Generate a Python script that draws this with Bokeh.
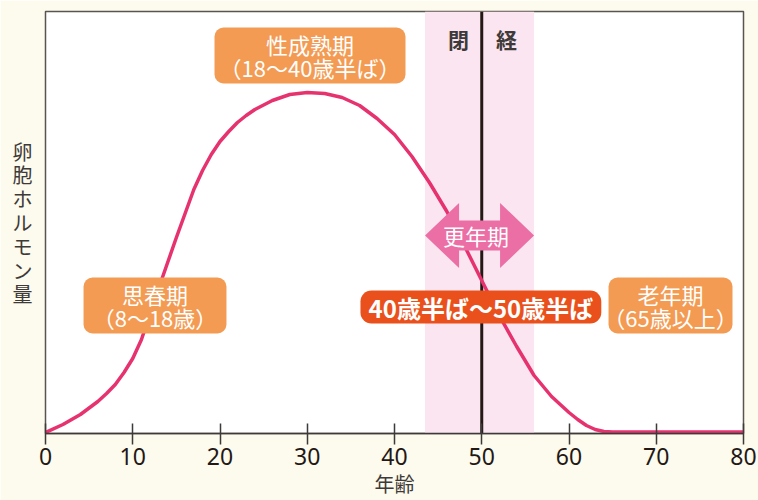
from bokeh.plotting import figure
from bokeh.models import Range1d, BoxAnnotation, Span, Label, FixedTicker
from bokeh.embed import file_html
from bokeh.resources import INLINE

# ---- data ----
ages = [0, 2, 4, 6, 7, 8, 9, 10, 11, 12, 13, 14, 15, 16, 17, 18, 19, 20, 21, 22, 23, 24,
        26, 28, 30, 32, 34, 36, 38, 40, 42, 44, 46, 48, 50, 52, 54, 56, 58, 60, 61,
        62, 63, 64, 65, 70, 75, 80]
hormone = [1, 9, 19, 32, 40, 49, 61, 75, 94, 120, 146, 171, 196, 220, 244, 263, 279, 292, 302, 311, 318, 324,
           333, 339, 341, 340, 336, 328, 315, 299, 277, 251, 222, 188, 153, 118, 87, 58, 37, 21, 14,
           8, 4, 2, 1.5, 1.5, 1.5, 1.5]
x_ticks = [0, 10, 20, 30, 40, 50, 60, 70, 80]
menopause_age = 50
band_start, band_end = 43.5, 56

stage_labels = [
    # (title, sub, left, right, bottom, top)
    ("思春期", "（8〜18歳）", 4.36, 20.74, 100, 156),
    ("性成熟期", "（18〜40歳半ば）", 19.37, 41.26, 350, 406),
    ("老年期", "（65歳以上）", 64.53, 78.74, 100, 156),
]
climacteric_text = "更年期"
climacteric_range = "40歳半ば〜50歳半ば"
menopause_chars = ["閉", "経"]
x_label = "年齢"
y_label = "卵胞ホルモン量"

BG = "#fdfbed"
ORANGE = "#f39b53"
JP = "Noto Sans CJK JP"
DARK = "#3e3a39"

p = figure(width=758, height=500, output_backend="svg", toolbar_location=None,
           x_range=Range1d(0, 80), y_range=Range1d(0, 422),
           min_border_left=45, min_border_right=15, min_border_top=11, min_border_bottom=67)
p.background_fill_color = "white"
p.border_fill_color = BG
p.outline_line_color = "#5a5450"
p.outline_line_width = 1.5
p.grid.visible = False

ax = p.xaxis[0]
ax.ticker = FixedTicker(ticks=x_ticks)
ax.minor_tick_line_color = None
ax.axis_line_color = DARK
ax.axis_line_width = 1.5
ax.major_tick_line_color = DARK
ax.major_tick_line_width = 1.5
ax.major_tick_in = 10
ax.major_tick_out = 11
ax.major_label_standoff = 3
ax.major_label_text_font = "Noto Sans"
ax.major_label_text_font_size = "23px"
ax.major_label_text_color = "#231815"
ax.axis_label = x_label
ax.axis_label_standoff = 1
ax.axis_label_text_font = JP
ax.axis_label_text_font_size = "20px"
ax.axis_label_text_font_style = "normal"
ax.axis_label_text_color = DARK

ay = p.yaxis[0]
ay.ticker = FixedTicker(ticks=[])
ay.axis_line_color = None
ay.major_tick_line_color = None
ay.minor_tick_line_color = None
ay.major_tick_out = 0
ay.major_tick_in = 0
ay.major_label_standoff = 0
ay.axis_label = "\n".join(y_label)
ay.axis_label_orientation = "horizontal"
ay.axis_label_standoff = 13
ay.axis_label_text_font = JP
ay.axis_label_text_font_size = "20px"
ay.axis_label_text_font_style = "normal"
ay.axis_label_text_line_height = 0.82
ay.axis_label_text_color = DARK

# band + menopause line
band = BoxAnnotation(left=band_start, right=band_end, fill_color="#fbe5f0", fill_alpha=1.0,
                     line_color=None, level="underlay")
p.add_layout(band)
span = Span(location=menopause_age, dimension="height", line_color="#231815", line_width=3,
            level="underlay")
p.add_layout(span)

# hormone curve
p.line(ages, hormone, line_color="#e6336f", line_width=3.5, line_join="round", line_cap="round")

# double arrow
head = 3.9
yc, hh, sh = 198, 32.5, 15
axs = [band_start, band_start + head, band_start + head, band_end - head, band_end - head, band_end,
       band_end - head, band_end - head, band_start + head, band_start + head]
ays = [yc, yc + hh, yc + sh, yc + sh, yc + hh, yc, yc - hh, yc - sh, yc - sh, yc - hh]
p.patch(axs, ays, fill_color="#eb6ea5", line_color=None)
p.add_layout(Label(x=(band_start + band_end) / 2 - 0.4, y=yc + 1, text=climacteric_text,
                   text_align="center", text_baseline="middle", text_font=JP,
                   text_font_size="22px", text_color="white"))

# stage boxes
for title, sub, l, r, b, t in stage_labels:
    p.add_layout(BoxAnnotation(left=l, right=r, bottom=b, top=t, fill_color=ORANGE, fill_alpha=1.0,
                               line_color=None, border_radius=9))
    cx = (l + r) / 2
    h = t - b
    p.add_layout(Label(x=cx, y=t - h * 0.29, text=title, text_align="center", text_baseline="middle",
                       text_font=JP, text_font_size="22px", text_color="white"))
    p.add_layout(Label(x=cx, y=b + h * 0.30, text=sub, text_align="center", text_baseline="middle",
                       text_font=JP, text_font_size="22px", text_color="white"))

# climacteric range box
p.add_layout(BoxAnnotation(left=36.1, right=63.7, bottom=110, top=143, fill_color="#e9501c",
                           fill_alpha=1.0, line_color=None, border_radius=11))
p.add_layout(Label(x=49.9, y=126.5, text=climacteric_range, text_align="center",
                   text_baseline="middle", text_font=JP, text_font_size="24px",
                   text_font_style="bold", text_color="white"))

# 閉 経
for ch, xx in zip(menopause_chars, [47.33, 52.84]):
    p.add_layout(Label(x=xx, y=395, text=ch, text_align="center", text_baseline="middle",
                       text_font=JP, text_font_size="21px", text_font_style="bold",
                       text_color=DARK))

html = file_html(p, INLINE)
html = html.replace("<body>", '<body style="background-color:%s;">' % BG, 1)
open("out.html", "w").write(html)
